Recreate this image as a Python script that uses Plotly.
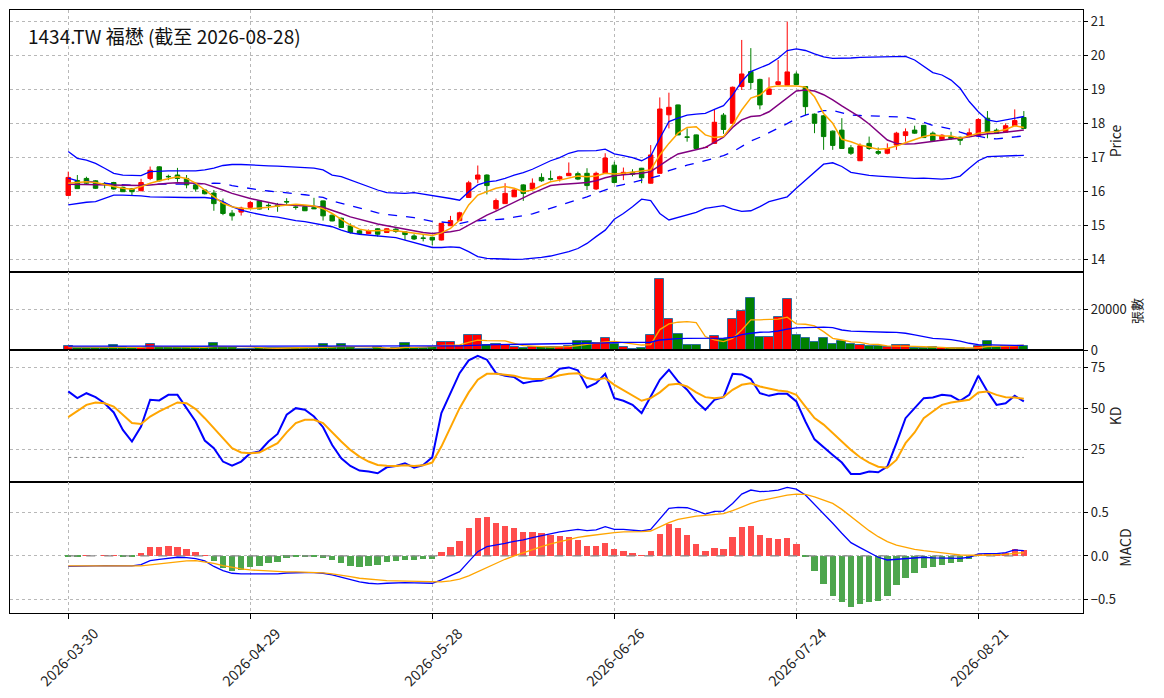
import pandas as pd
import plotly.graph_objects as go
from plotly.subplots import make_subplots

# ---------------- data ----------------
holidays = ["2026-04-03", "2026-04-06", "2026-05-01", "2026-06-19"]
dates = [d.strftime("%Y-%m-%d") for d in
         pd.bdate_range("2026-03-30", "2026-08-28", freq="C", holidays=holidays)]

tick_labels = ["2026-03-30", "2026-04-29", "2026-05-28", "2026-06-26", "2026-07-24", "2026-08-21"]

opens = [15.89, 16.33, 16.39, 16.32, 16.24, 16.27, 16.13, 16.09, 16.03, 16.39,
         16.73, 16.45, 16.49, 16.39, 16.20, 16.05, 15.96, 15.68, 15.37, 15.40,
         15.54, 15.73, 15.60, 15.61, 15.71, 15.55, 15.56, 15.53, 15.73, 15.31,
         15.22, 14.99, 14.85, 14.77, 14.91, 14.80, 14.90, 14.82, 14.70, 14.64,
         14.66, 14.58, 15.00, 15.15, 15.83, 16.37, 16.49, 15.50, 15.65, 15.85,
         16.20, 16.08, 16.42, 16.38, 16.37, 16.47, 16.53, 16.54, 16.08, 16.54,
         16.78, 16.51, 16.57, 16.69, 16.25, 16.54, 18.26, 18.55, 17.61, 17.67,
         17.30, 17.42, 18.25, 18.01, 19.09, 19.53, 19.30, 18.86, 19.15, 19.13,
         19.46, 19.09, 18.28, 18.23, 17.78, 17.81, 17.29, 16.91, 17.42, 17.18,
         17.13, 17.37, 17.65, 17.81, 17.95, 17.72, 17.54, 17.62, 17.60, 17.62,
         17.64, 18.16, 17.81, 17.75, 17.94, 18.18]
highs = [16.59, 16.49, 16.44, 16.34, 16.28, 16.29, 16.15, 16.11, 16.38, 16.74,
         16.75, 16.50, 16.70, 16.49, 16.22, 16.07, 16.05, 15.80, 15.46, 15.56,
         15.73, 15.75, 15.66, 15.67, 15.81, 15.63, 15.58, 15.82, 15.74, 15.33,
         15.24, 15.07, 14.87, 14.89, 14.93, 14.93, 14.93, 14.84, 14.75, 14.73,
         14.68, 15.08, 15.29, 15.41, 16.32, 16.77, 16.51, 15.80, 16.25, 16.07,
         16.22, 16.39, 16.54, 16.62, 16.47, 16.86, 16.59, 16.69, 16.59, 17.13,
         16.88, 16.71, 16.66, 16.70, 17.37, 18.77, 18.91, 18.56, 17.86, 17.68,
         17.30, 18.42, 18.31, 19.09, 20.46, 20.22, 19.32, 19.36, 19.87, 21.00,
         19.53, 19.10, 18.30, 18.25, 17.80, 18.16, 17.37, 17.42, 17.62, 17.30,
         17.42, 17.76, 17.86, 17.94, 17.96, 17.77, 17.69, 17.76, 17.62, 17.86,
         18.16, 18.37, 17.86, 18.01, 18.42, 18.37]
lows = [15.89, 16.09, 16.20, 16.08, 16.10, 16.06, 15.99, 15.90, 16.01, 16.34,
        16.30, 16.34, 16.29, 16.10, 16.00, 15.92, 15.44, 15.31, 15.15, 15.30,
        15.53, 15.48, 15.46, 15.41, 15.61, 15.47, 15.43, 15.49, 15.15, 15.13,
        14.94, 14.77, 14.75, 14.76, 14.68, 14.79, 14.79, 14.58, 14.58, 14.54,
        14.43, 14.57, 14.99, 15.14, 15.82, 16.25, 15.92, 15.44, 15.64, 15.84,
        15.73, 16.05, 16.29, 16.33, 16.30, 16.46, 16.34, 16.05, 16.05, 16.53,
        16.24, 16.34, 16.45, 16.25, 16.24, 16.53, 17.86, 17.66, 17.47, 17.25,
        17.30, 17.41, 17.70, 18.00, 18.99, 19.01, 18.42, 18.84, 19.13, 19.12,
        19.13, 18.25, 17.72, 17.23, 17.23, 17.27, 17.08, 16.90, 17.23, 17.08,
        17.10, 17.23, 17.47, 17.70, 17.58, 17.47, 17.51, 17.52, 17.37, 17.60,
        17.62, 17.57, 17.70, 17.74, 17.93, 17.84]
closes = [16.42, 16.09, 16.25, 16.10, 16.23, 16.08, 16.00, 16.00, 16.27, 16.63,
          16.32, 16.44, 16.39, 16.20, 16.08, 15.94, 15.65, 15.36, 15.29, 15.52,
          15.68, 15.49, 15.59, 15.58, 15.70, 15.54, 15.44, 15.50, 15.29, 15.14,
          14.95, 14.80, 14.77, 14.85, 14.75, 14.91, 14.83, 14.74, 14.61, 14.63,
          14.58, 15.07, 15.15, 15.38, 16.26, 16.49, 16.18, 15.74, 15.95, 16.05,
          15.95, 16.25, 16.32, 16.37, 16.44, 16.54, 16.37, 16.18, 16.54, 16.99,
          16.27, 16.57, 16.51, 16.41, 17.08, 18.43, 18.48, 17.67, 17.60, 17.27,
          17.30, 18.04, 17.83, 19.07, 19.46, 19.21, 18.55, 19.02, 19.23, 19.52,
          19.15, 18.50, 18.01, 17.62, 17.36, 17.27, 17.13, 17.35, 17.27, 17.13,
          17.27, 17.72, 17.76, 17.72, 17.59, 17.50, 17.66, 17.56, 17.51, 17.73,
          18.12, 17.75, 17.72, 17.94, 18.09, 17.86]

ma5 = [16.25, 16.27, 16.29, 16.27, 16.20, 16.15, 16.10, 16.07, 16.15, 16.25,
       16.32, 16.39, 16.44, 16.39, 16.25, 16.05, 15.85, 15.66, 15.56, 15.51,
       15.50, 15.51, 15.54, 15.58, 15.61, 15.63, 15.61, 15.58, 15.50, 15.36,
       15.19, 15.02, 14.90, 14.85, 14.85, 14.87, 14.85, 14.82, 14.77, 14.75,
       14.71, 14.79, 14.92, 15.17, 15.61, 15.90, 16.00, 16.10, 16.15, 16.10,
       16.00, 16.05, 16.18, 16.29, 16.34, 16.39, 16.46, 16.44, 16.46, 16.54,
       16.52, 16.54, 16.57, 16.59, 16.64, 17.08, 17.42, 17.72, 17.89, 17.91,
       17.67, 17.59, 17.62, 17.96, 18.40, 18.75, 18.84, 19.07, 19.11, 19.11,
       19.11, 19.07, 18.79, 18.30, 18.01, 17.54, 17.47, 17.37, 17.30, 17.25,
       17.27, 17.34, 17.44, 17.52, 17.62, 17.67, 17.64, 17.64, 17.57, 17.64,
       17.72, 17.75, 17.77, 17.83, 17.94, 17.89]
ma10 = [16.22, 16.22, 16.20, 16.20, 16.20, 16.20, 16.19, 16.18, 16.18, 16.20,
        16.23, 16.25, 16.26, 16.26, 16.25, 16.23, 16.15, 16.05, 15.95, 15.87,
        15.80, 15.74, 15.68, 15.63, 15.61, 15.60, 15.58, 15.57, 15.54, 15.46,
        15.36, 15.26, 15.19, 15.11, 15.05, 15.00, 14.95, 14.89, 14.84, 14.80,
        14.77, 14.79, 14.82, 14.87, 15.02, 15.17, 15.31, 15.43, 15.56, 15.71,
        15.82, 15.95, 16.07, 16.18, 16.21, 16.22, 16.25, 16.27, 16.32, 16.41,
        16.47, 16.50, 16.52, 16.54, 16.59, 16.78, 16.95, 17.11, 17.18, 17.25,
        17.30, 17.45, 17.60, 17.89, 18.11, 18.21, 18.23, 18.35, 18.55, 18.77,
        18.96, 18.99, 18.96, 18.85, 18.70, 18.52, 18.35, 18.19, 17.99, 17.74,
        17.52, 17.42, 17.40, 17.41, 17.45, 17.48, 17.52, 17.55, 17.57, 17.62,
        17.67, 17.70, 17.72, 17.75, 17.77, 17.81]
bb_upper = [17.18, 16.98, 16.93, 16.83, 16.69, 16.54, 16.49, 16.47, 16.47, 16.59,
            16.61, 16.61, 16.61, 16.61, 16.61, 16.64, 16.69, 16.77, 16.80, 16.80,
            16.78, 16.77, 16.76, 16.75, 16.74, 16.72, 16.70, 16.69, 16.64, 16.49,
            16.44, 16.34, 16.25, 16.15, 16.05, 15.97, 15.95, 15.95, 15.97, 15.93,
            15.90, 15.85, 15.80, 15.75, 16.00, 16.20, 16.29, 16.32, 16.39, 16.49,
            16.56, 16.66, 16.78, 16.91, 17.00, 17.13, 17.20, 17.21, 17.21, 17.25,
            17.11, 17.06, 17.00, 16.91, 17.05, 17.57, 18.06, 18.16, 18.25, 18.28,
            18.30, 18.42, 18.53, 18.84, 19.24, 19.53, 19.63, 19.75, 19.92, 20.15,
            20.20, 20.15, 20.05, 19.96, 19.92, 19.92, 19.93, 19.95, 19.96, 19.97,
            19.98, 19.98, 19.98, 19.87, 19.68, 19.50, 19.43, 19.28, 19.04, 18.65,
            18.35, 18.11, 18.06, 18.11, 18.18, 18.21]
bb_mid = [16.40, 16.32, 16.31, 16.27, 16.25, 16.22, 16.20, 16.19, 16.18, 16.22,
          16.23, 16.22, 16.22, 16.22, 16.22, 16.24, 16.25, 16.24, 16.18, 16.13,
          16.09, 16.05, 16.02, 16.00, 15.97, 15.94, 15.91, 15.88, 15.83, 15.73,
          15.66, 15.57, 15.50, 15.44, 15.38, 15.33, 15.30, 15.27, 15.24, 15.18,
          15.13, 15.11, 15.09, 15.06, 15.12, 15.15, 15.17, 15.18, 15.20, 15.25,
          15.29, 15.35, 15.43, 15.51, 15.60, 15.69, 15.77, 15.85, 15.95, 16.06,
          16.15, 16.21, 16.28, 16.35, 16.40, 16.47, 16.62, 16.71, 16.78, 16.84,
          16.91, 16.98, 17.06, 17.17, 17.33, 17.49, 17.60, 17.73, 17.86, 18.00,
          18.15, 18.25, 18.32, 18.38, 18.39, 18.33, 18.25, 18.24, 18.22, 18.22,
          18.21, 18.20, 18.19, 18.13, 18.04, 17.95, 17.90, 17.84, 17.75, 17.67,
          17.63, 17.57, 17.55, 17.58, 17.62, 17.64]
bb_lower = [15.61, 15.66, 15.69, 15.71, 15.80, 15.90, 15.90, 15.90, 15.88, 15.85,
            15.84, 15.83, 15.83, 15.83, 15.83, 15.83, 15.80, 15.71, 15.56, 15.46,
            15.39, 15.33, 15.28, 15.25, 15.19, 15.15, 15.12, 15.07, 15.02, 14.97,
            14.87, 14.79, 14.75, 14.73, 14.70, 14.68, 14.65, 14.58, 14.51, 14.43,
            14.36, 14.36, 14.38, 14.36, 14.24, 14.09, 14.04, 14.03, 14.01, 14.01,
            14.02, 14.04, 14.07, 14.11, 14.17, 14.24, 14.33, 14.48, 14.68, 14.87,
            15.19, 15.36, 15.56, 15.78, 15.74, 15.36, 15.17, 15.25, 15.31, 15.39,
            15.51, 15.54, 15.59, 15.49, 15.42, 15.44, 15.56, 15.71, 15.79, 15.85,
            16.10, 16.34, 16.59, 16.81, 16.85, 16.74, 16.57, 16.52, 16.48, 16.46,
            16.44, 16.42, 16.40, 16.39, 16.40, 16.39, 16.37, 16.39, 16.46, 16.69,
            16.91, 17.03, 17.04, 17.04, 17.05, 17.07]

volumes = [2000, 1000, 1000, 800, 900, 2300, 1300, 1100, 1150, 2950,
           1600, 1300, 1300, 1300, 1300, 1300, 3400, 1600, 1450, 650,
           650, 1000, 1000, 1000, 1000, 1000, 1000, 1150, 2950, 1300,
           2950, 1450, 650, 500, 1300, 650, 1150, 3400, 1150, 1150,
           1450, 3900, 3900, 2100, 7200, 7200, 2460, 2950, 2300, 1640,
           1150, 1480, 1480, 1480, 1640, 2000, 4260, 4260, 3600, 6000,
           2800, 1640, 650, 1150, 7200, 34800, 15400, 7700, 2600, 2600,
           0, 6700, 5400, 15100, 19200, 25300, 6600, 6600, 16100, 24900,
           7200, 5700, 3900, 5700, 2950, 4600, 2950, 2300, 1800, 1800,
           1300, 2300, 2300, 1000, 1000, 1300, 800, 800, 800, 650,
           2100, 4260, 1300, 2000, 2000, 2100]
vol_ma5 = [1500, 1500, 1450, 1400, 1350, 1200, 1260, 1280, 1310, 1760,
           1680, 1640, 1660, 1700, 1360, 1300, 1720, 1780, 1810, 1680,
           1550, 1070, 880, 860, 940, 1000, 1000, 1030, 1420, 1480,
           1770, 1770, 1860, 1570, 1370, 880, 850, 1340, 1330, 1500,
           1660, 2230, 2330, 2500, 3710, 4860, 4570, 4560, 4420, 3260,
           2100, 1900, 1610, 1450, 1540, 1620, 2170, 2730, 3150, 4020,
           4180, 3660, 2940, 2440, 2660, 10000, 12800, 13600, 13900, 13400,
           6600, 4900, 4100, 5700, 9800, 14800, 14800, 15100, 15100, 16100,
           12800, 12600, 11800, 9000, 5700, 4900, 3960, 3700, 2920, 2690,
           2030, 1900, 1940, 1740, 1580, 1580, 1280, 980, 940, 870,
           1030, 1720, 1780, 2060, 2070, 2330]
vol_ma20 = [1900, 1900, 1880, 1850, 1850, 1850, 1830, 1800, 1800, 1820,
            1820, 1820, 1820, 1800, 1800, 1800, 1850, 1850, 1850, 1800,
            1780, 1750, 1720, 1700, 1700, 1680, 1680, 1680, 1700, 1700,
            1720, 1720, 1700, 1680, 1680, 1650, 1650, 1700, 1700, 1700,
            1720, 1850, 1980, 2050, 2300, 2500, 2550, 2600, 2650, 2650,
            2600, 2650, 2700, 2800, 2950, 3000, 3200, 3300, 3400, 3600,
            3700, 3700, 3700, 3750, 3800, 4900, 5400, 5600, 5700, 5700,
            5700, 5700, 5800, 6200, 7500, 8200, 8700, 8800, 9300, 10200,
            10800, 11000, 11200, 11200, 11000, 9800, 9200, 9000, 8900, 8800,
            8700, 8600, 8200, 7400, 6700, 5700, 5400, 5100, 4400, 3300,
            2600, 2460, 2300, 2300, 2300, 2300]

k_vals = [60.2, 56.1, 59.1, 56.7, 53.0, 47.4, 36.8, 29.7, 38.8, 55.1,
          54.7, 58.1, 58.1, 50.0, 41.9, 30.3, 25.6, 17.5, 15.0, 17.5,
          22.6, 23.6, 29.7, 34.3, 46.0, 50.0, 49.0, 44.9, 38.4, 27.6,
          19.5, 14.8, 12.0, 11.4, 10.4, 14.0, 14.8, 16.5, 13.8, 15.4,
          20.1, 47.0, 59.1, 71.3, 79.1, 81.9, 79.5, 71.3, 69.7, 68.9,
          65.2, 66.3, 66.9, 69.3, 74.0, 74.8, 73.0, 62.6, 65.2, 70.9,
          56.1, 54.5, 52.0, 47.0, 57.1, 67.3, 73.4, 66.3, 61.2, 54.1,
          49.0, 55.1, 56.7, 70.9, 70.5, 67.7, 59.1, 57.5, 58.7, 58.7,
          54.1, 41.9, 31.0, 26.5, 21.5, 16.9, 10.0, 10.0, 11.4, 11.0,
          14.4, 28.7, 43.9, 50.0, 56.1, 56.5, 58.1, 57.5, 54.5, 58.1,
          69.7, 60.2, 52.0, 53.0, 57.5, 54.1]
d_vals = [44.5, 48.0, 52.0, 53.5, 53.0, 51.0, 45.9, 40.9, 40.4, 44.9,
          48.0, 51.0, 53.5, 53.0, 49.4, 43.9, 37.8, 31.7, 25.6, 23.0,
          22.6, 23.0, 25.6, 28.7, 35.3, 40.9, 42.9, 42.9, 40.9, 35.2,
          29.7, 24.6, 20.5, 17.5, 15.4, 15.0, 14.8, 15.2, 14.8, 15.2,
          16.9, 26.6, 37.8, 50.0, 59.6, 67.3, 70.9, 70.9, 70.3, 69.7,
          68.3, 67.7, 67.7, 68.3, 70.0, 70.9, 71.3, 68.3, 67.3, 68.3,
          64.2, 60.8, 57.5, 54.5, 56.1, 59.6, 64.2, 64.8, 63.2, 59.6,
          56.7, 56.1, 56.7, 61.2, 64.2, 65.2, 63.2, 61.8, 60.8, 60.2,
          58.1, 51.0, 44.0, 40.0, 34.8, 29.7, 24.6, 20.1, 16.9, 14.4,
          13.8, 18.5, 28.7, 35.2, 43.9, 48.0, 52.0, 53.5, 54.1, 55.1,
          59.6, 60.2, 58.1, 56.7, 56.5, 55.7]

dif = [-0.120, -0.120, -0.114, -0.114, -0.110, -0.114, -0.114, -0.114, -0.100, -0.053,
       -0.038, -0.027, -0.015, -0.019, -0.030, -0.057, -0.120, -0.167, -0.198, -0.205,
       -0.205, -0.209, -0.209, -0.205, -0.195, -0.190, -0.190, -0.190, -0.198, -0.217,
       -0.243, -0.274, -0.297, -0.312, -0.319, -0.312, -0.304, -0.304, -0.308, -0.312,
       -0.312, -0.274, -0.228, -0.179, -0.065, 0.049, 0.106, 0.122, 0.144, 0.167,
       0.183, 0.209, 0.232, 0.259, 0.275, 0.289, 0.304, 0.289, 0.297, 0.335,
       0.304, 0.304, 0.297, 0.285, 0.304, 0.430, 0.544, 0.555, 0.551, 0.517,
       0.479, 0.510, 0.513, 0.600, 0.707, 0.753, 0.734, 0.741, 0.753, 0.783,
       0.764, 0.696, 0.590, 0.490, 0.373, 0.259, 0.152, 0.095, 0.038, -0.015,
       -0.046, -0.038, -0.023, -0.015, -0.015, -0.023, -0.023, -0.027, -0.027, -0.015,
       0.023, 0.027, 0.027, 0.038, 0.068, 0.061]
dea = [-0.114, -0.114, -0.110, -0.110, -0.110, -0.110, -0.110, -0.114, -0.114, -0.103,
       -0.091, -0.076, -0.065, -0.057, -0.053, -0.065, -0.084, -0.110, -0.133, -0.148,
       -0.160, -0.167, -0.175, -0.179, -0.181, -0.183, -0.186, -0.190, -0.194, -0.205,
       -0.217, -0.236, -0.255, -0.266, -0.274, -0.281, -0.285, -0.289, -0.293, -0.297,
       -0.300, -0.297, -0.285, -0.266, -0.228, -0.179, -0.133, -0.084, -0.038, 0.000,
       0.038, 0.076, 0.106, 0.137, 0.163, 0.190, 0.213, 0.228, 0.240, 0.259,
       0.266, 0.274, 0.274, 0.278, 0.285, 0.335, 0.380, 0.418, 0.441, 0.456,
       0.464, 0.471, 0.483, 0.517, 0.563, 0.600, 0.631, 0.654, 0.677, 0.696,
       0.707, 0.703, 0.675, 0.640, 0.600, 0.532, 0.449, 0.365, 0.289, 0.220,
       0.163, 0.125, 0.099, 0.076, 0.061, 0.046, 0.034, 0.023, 0.011, 0.008,
       0.008, 0.011, 0.011, 0.019, 0.030, 0.038]
hist = [-0.010, -0.010, 0.008, 0.000, 0.010, 0.010, -0.005, -0.005, 0.034, 0.103,
        0.103, 0.114, 0.103, 0.080, 0.046, 0.005, -0.057, -0.133, -0.171, -0.160,
        -0.122, -0.114, -0.076, -0.068, -0.019, -0.008, -0.005, -0.005, -0.019, -0.042,
        -0.076, -0.110, -0.122, -0.110, -0.099, -0.065, -0.053, -0.042, -0.042, -0.030,
        -0.030, 0.046, 0.103, 0.171, 0.319, 0.433, 0.445, 0.376, 0.342, 0.319,
        0.274, 0.274, 0.259, 0.240, 0.228, 0.220, 0.183, 0.114, 0.114, 0.148,
        0.080, 0.057, 0.034, 0.003, 0.057, 0.251, 0.365, 0.319, 0.240, 0.137,
        0.057, 0.091, 0.080, 0.217, 0.331, 0.342, 0.240, 0.205, 0.194, 0.205,
        0.137, -0.005, -0.171, -0.323, -0.452, -0.529, -0.578, -0.551, -0.529, -0.510,
        -0.452, -0.335, -0.247, -0.190, -0.141, -0.129, -0.099, -0.084, -0.072, -0.038,
        0.027, 0.030, 0.030, 0.038, 0.076, 0.065]

kd_levels = [80, 20]

# ---------------- figure ----------------
FONT = "Noto Sans CJK TC, Noto Sans, DejaVu Sans, sans-serif"
RED = "#ff0000"
GREEN = "#008000"
GRID = "#b8b8b8"
TXT = "#222222"
TICK_SIZE = 13

fig = make_subplots(rows=4, cols=1, shared_xaxes=True, vertical_spacing=0,
                    row_heights=[262, 78, 132, 131])

# price panel
fig.add_trace(go.Candlestick(
    x=dates, open=opens, high=highs, low=lows, close=closes,
    increasing=dict(line=dict(color=RED, width=1), fillcolor=RED),
    decreasing=dict(line=dict(color=GREEN, width=1), fillcolor=GREEN),
    whiskerwidth=0, showlegend=False, hoverinfo="x+y"), row=1, col=1)
fig.add_trace(go.Scatter(x=dates, y=bb_upper, mode="lines",
                         line=dict(color="#0000ff", width=1.3), showlegend=False), row=1, col=1)
fig.add_trace(go.Scatter(x=dates, y=bb_lower, mode="lines",
                         line=dict(color="#0000ff", width=1.3), showlegend=False), row=1, col=1)
fig.add_trace(go.Scatter(x=dates, y=bb_mid, mode="lines",
                         line=dict(color="#0000ff", width=1.3, dash="dash"), showlegend=False), row=1, col=1)
fig.add_trace(go.Scatter(x=dates, y=ma10, mode="lines",
                         line=dict(color="#800080", width=1.5), showlegend=False), row=1, col=1)
fig.add_trace(go.Scatter(x=dates, y=ma5, mode="lines",
                         line=dict(color="#ffa500", width=1.5), showlegend=False), row=1, col=1)

# volume panel
vol_colors = [RED if c > o else GREEN for o, c in zip(opens, closes)]
fig.add_trace(go.Bar(x=dates, y=volumes, marker=dict(color=vol_colors,
                     line=dict(color="#2f6f9f", width=1)), width=1.0,
                     showlegend=False), row=2, col=1)
fig.add_trace(go.Scatter(x=dates, y=vol_ma5, mode="lines",
                         line=dict(color="#ffa500", width=1.3), showlegend=False), row=2, col=1)
fig.add_trace(go.Scatter(x=dates, y=vol_ma20, mode="lines",
                         line=dict(color="#0000ff", width=1.3), showlegend=False), row=2, col=1)

# KD panel
for lvl in kd_levels:
    fig.add_trace(go.Scatter(x=[dates[0], dates[-1]], y=[lvl, lvl], mode="lines",
                             line=dict(color="#888888", width=1, dash="dot"),
                             showlegend=False, hoverinfo="skip"), row=3, col=1)
fig.add_trace(go.Scatter(x=dates, y=k_vals, mode="lines",
                         line=dict(color="#0000ff", width=2), showlegend=False), row=3, col=1)
fig.add_trace(go.Scatter(x=dates, y=d_vals, mode="lines",
                         line=dict(color="#ffa500", width=2), showlegend=False), row=3, col=1)

# MACD panel
hist_colors = ["#ff4d4d" if h >= 0 else "#4da64d" for h in hist]
fig.add_trace(go.Bar(x=dates, y=hist, marker=dict(color=hist_colors, line=dict(width=0)),
                     width=0.7, showlegend=False), row=4, col=1)
fig.add_trace(go.Scatter(x=[dates[0], dates[-1]], y=[0, 0], mode="lines",
                         line=dict(color="#888888", width=1.2, dash="dash"),
                         showlegend=False, hoverinfo="skip"), row=4, col=1)
fig.add_trace(go.Scatter(x=dates, y=dif, mode="lines",
                         line=dict(color="#0000ff", width=1.3), showlegend=False), row=4, col=1)
fig.add_trace(go.Scatter(x=dates, y=dea, mode="lines",
                         line=dict(color="#ffa500", width=1.3), showlegend=False), row=4, col=1)

# axes
for r in range(1, 5):
    fig.update_xaxes(type="category", range=[-6.4, 111.5], tickvals=tick_labels,
                     showgrid=True, gridcolor=GRID, griddash="dot", gridwidth=1,
                     showline=True, mirror=True, linecolor="black", linewidth=1.2,
                     ticks="" if r < 4 else "outside", ticklen=5, tickcolor="black",
                     showticklabels=False,
                     rangeslider=dict(visible=False), row=r, col=1)

common_y = dict(side="right", showgrid=True, gridcolor=GRID, griddash="dot", gridwidth=1,
                showline=True, mirror=True, linecolor="black", linewidth=1.2,
                ticks="outside", ticklen=4, tickcolor="black", zeroline=False,
                tickfont=dict(size=TICK_SIZE, color=TXT, family=FONT))

fig.update_yaxes(range=[13.64, 21.34], tickvals=[14, 15, 16, 17, 18, 19, 20, 21],
                 title=dict(text="Price", standoff=6, font=dict(size=14, family=FONT, color=TXT)),
                 row=1, col=1, **common_y)
fig.update_yaxes(range=[0, 38200], tickvals=[0, 20000], ticktext=["0", "20000"],
                 title=dict(text="張數", standoff=4, font=dict(size=13, family=FONT, color=TXT)),
                 row=2, col=1, **common_y)
fig.update_yaxes(range=[5.06, 85.4], tickvals=[25, 50, 75],
                 title=dict(text="KD", standoff=6, font=dict(size=14, family=FONT, color=TXT)),
                 row=3, col=1, **common_y)
fig.update_yaxes(range=[-0.652, 0.845], tickvals=[-0.5, 0, 0.5], ticktext=["\u22120.5", "0.0", "0.5"],
                 title=dict(text="MACD", standoff=6, font=dict(size=14, family=FONT, color=TXT)),
                 row=4, col=1, **common_y)

# rotated date labels, centred under their ticks (as in the reference)
date_annotations = [dict(text=lab, x=lab, xref="x4", y=-0.0715, yref="paper",
                         xanchor="center", yanchor="middle", textangle=-45, showarrow=False,
                         font=dict(size=14.5, family=FONT, color=TXT))
                    for lab in tick_labels]

# the page body keeps the browser's 8px margin, so the figure is sized to fit inside it
fig.update_layout(
    width=1148, height=682,
    margin=dict(l=2, r=73, t=2, b=77, autoexpand=False),
    paper_bgcolor="white", plot_bgcolor="white",
    font=dict(family=FONT, color=TXT),
    bargap=0, showlegend=False,
    annotations=[dict(text="1434.TW 福懋 (截至 2026-08-28)", xref="paper", yref="paper",
                      x=0.015, y=0.983, xanchor="left", yanchor="top", showarrow=False,
                      font=dict(size=19, family=FONT, color="#111111"))] + date_annotations,
)

fig.write_html("out.html")
